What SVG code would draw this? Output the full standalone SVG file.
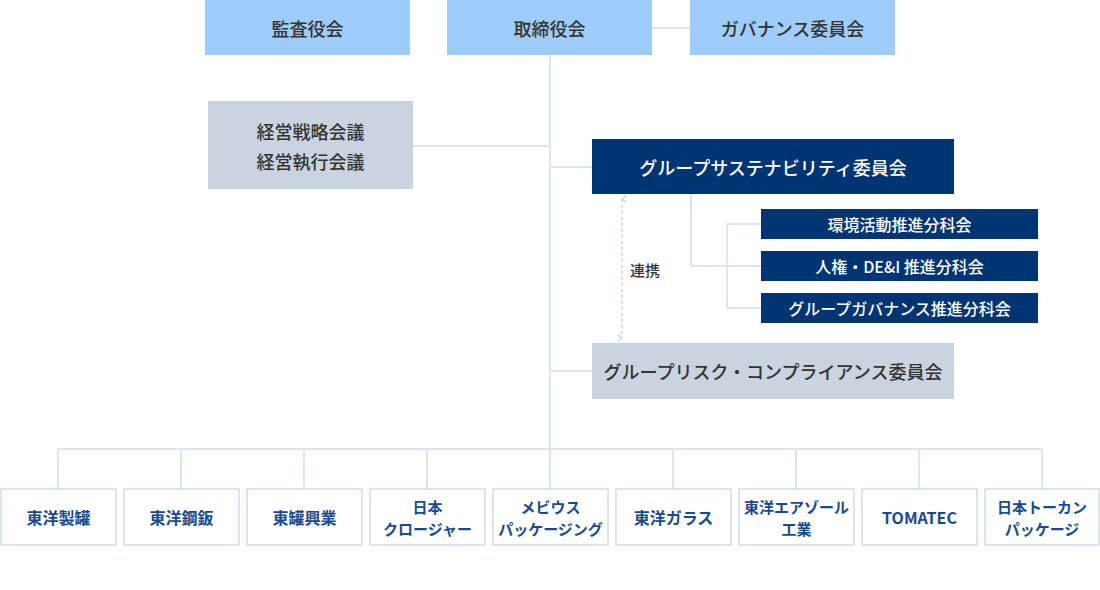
<svg xmlns="http://www.w3.org/2000/svg" width="1100" height="590" viewBox="0 0 1100 590">
<defs>
<style>
.top{fill:#9eccfb}
.gray{fill:#c9d4e0}
.navy{fill:#003473}
.co{fill:#fff;stroke:#d3dce7;stroke-width:1.5}
.ln{fill:none;stroke:#dfe5ee;stroke-width:2}
.t{font-family:"Noto Sans CJK JP","Noto Sans",sans-serif;text-anchor:middle;dominant-baseline:central}
.td{fill:#333;font-size:18px;font-weight:500}
.tw{fill:#fff;font-size:18px;font-weight:500}
.ts{fill:#fff;font-size:16px;font-weight:500}
.tc{fill:#1a4a8c;font-size:16px;font-weight:700}
.t2{font-size:15px}
</style>
<marker id="ah" viewBox="0 0 10 10" refX="5" refY="1" markerWidth="10" markerHeight="10" orient="auto-start-reverse" markerUnits="userSpaceOnUse">
<path d="M1.5,5 L5,1.5 L8.5,5" fill="none" stroke="#c9d3e0" stroke-width="1.3"/>
</marker>
</defs>
<rect width="1100" height="590" fill="#fff"/>
<g id="connectors">
<line class="ln" x1="652" y1="28" x2="690" y2="28"/>
<line class="ln" x1="550" y1="55" x2="550" y2="449"/>
<line class="ln" x1="413" y1="146" x2="550" y2="146"/>
<line class="ln" x1="550" y1="167" x2="592" y2="167"/>
<line class="ln" x1="550" y1="371" x2="592" y2="371"/>
<polyline class="ln" points="691,194 691,266 761,266"/>
<polyline class="ln" points="761,224 727,224 727,308 761,308"/>
<line x1="622" y1="199" x2="622" y2="338" stroke="#c9d3e0" stroke-width="1.5" stroke-dasharray="3,3" marker-start="url(#ah)" marker-end="url(#ah)"/>
<line class="ln" x1="58" y1="449" x2="1042" y2="449"/>
<line class="ln" x1="58" y1="448" x2="58" y2="489"/>
<line class="ln" x1="181" y1="448" x2="181" y2="489"/>
<line class="ln" x1="304" y1="448" x2="304" y2="489"/>
<line class="ln" x1="427" y1="448" x2="427" y2="489"/>
<line class="ln" x1="550" y1="448" x2="550" y2="489"/>
<line class="ln" x1="673" y1="448" x2="673" y2="489"/>
<line class="ln" x1="796" y1="448" x2="796" y2="489"/>
<line class="ln" x1="919" y1="448" x2="919" y2="489"/>
<line class="ln" x1="1042" y1="448" x2="1042" y2="489"/>
<text class="t" x="645" y="269" fill="#333" font-size="15" font-weight="500">連携</text>
</g>
<g id="kansayakukai"><rect class="top" x="205" y="0" width="205" height="55"/><text class="t td" x="307.5" y="28">監査役会</text></g>
<g id="torishimariyakukai"><rect class="top" x="447" y="0" width="205" height="55"/><text class="t td" x="549.5" y="28">取締役会</text></g>
<g id="governance"><rect class="top" x="690" y="0" width="205" height="55"/><text class="t td" x="792.5" y="28">ガバナンス委員会</text></g>
<g id="keiei"><rect class="gray" x="208" y="101" width="205" height="88"/><text class="t td" x="310.5" y="131">経営戦略会議</text><text class="t td" x="310.5" y="161">経営執行会議</text></g>
<g id="sustainability"><rect class="navy" x="592" y="139" width="362" height="55"/><text class="t tw" x="773" y="167">グループサステナビリティ委員会</text></g>
<g id="kankyo"><rect class="navy" x="761" y="209" width="277" height="30"/><text class="t ts" x="899.5" y="224">環境活動推進分科会</text></g>
<g id="jinken"><rect class="navy" x="761" y="251" width="277" height="30"/><text class="t ts" x="899.5" y="266">人権・DE&amp;I 推進分科会</text></g>
<g id="groupgov"><rect class="navy" x="761" y="293" width="277" height="30"/><text class="t ts" x="899.5" y="308">グループガバナンス推進分科会</text></g>
<g id="risk"><rect class="gray" x="592" y="343" width="362" height="56"/><text class="t td" x="773" y="371">グループリスク・コンプライアンス委員会</text></g>
<g id="c1"><rect class="co" x="1" y="489" width="115" height="56"/><text class="t tc" x="58.5" y="517">東洋製罐</text></g>
<g id="c2"><rect class="co" x="124" y="489" width="115" height="56"/><text class="t tc" x="181.5" y="517">東洋鋼鈑</text></g>
<g id="c3"><rect class="co" x="247" y="489" width="115" height="56"/><text class="t tc" x="304.5" y="517">東罐興業</text></g>
<g id="c4"><rect class="co" x="370" y="489" width="115" height="56"/><text class="t tc t2" x="427.5" y="506">日本</text><text class="t tc t2" x="427.5" y="528">クロージャー</text></g>
<g id="c5"><rect class="co" x="493" y="489" width="115" height="56"/><text class="t tc t2" x="550.5" y="506">メビウス</text><text class="t tc t2" x="550.5" y="528">パッケージング</text></g>
<g id="c6"><rect class="co" x="616" y="489" width="115" height="56"/><text class="t tc" x="673.5" y="517">東洋ガラス</text></g>
<g id="c7"><rect class="co" x="739" y="489" width="115" height="56"/><text class="t tc t2" x="796.5" y="506">東洋エアゾール</text><text class="t tc t2" x="796.5" y="528">工業</text></g>
<g id="c8"><rect class="co" x="862" y="489" width="115" height="56"/><text class="t tc" x="919.5" y="517">TOMATEC</text></g>
<g id="c9"><rect class="co" x="985" y="489" width="114" height="56"/><text class="t tc t2" x="1042" y="506">日本トーカン</text><text class="t tc t2" x="1042" y="528">パッケージ</text></g>
</svg>
